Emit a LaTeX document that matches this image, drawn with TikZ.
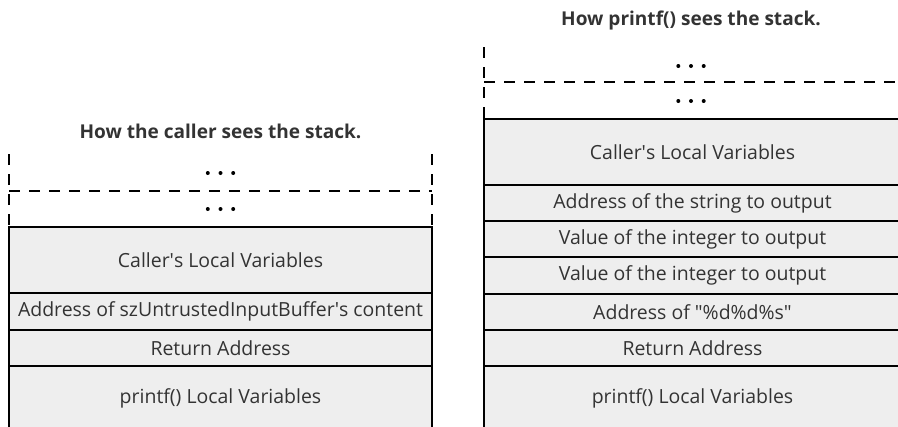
\documentclass[tikz,border=0pt]{standalone}
\usepackage{fontspec}
\setmainfont{Open Sans}
\usetikzlibrary{positioning}
\definecolor{cellgray}{HTML}{EEEEEE}
\definecolor{inkgray}{HTML}{333333}

\begin{document}
\begin{tikzpicture}[x=0.75pt,y=-0.75pt,line cap=butt,every node/.style={font=\fontsize{14.6}{16}\selectfont,text=inkgray}]
  \tikzset{
    cell/.style={draw,line width=1.5pt,fill=cellgray,outer sep=0pt,inner sep=0pt},
    heading/.style={font=\fontsize{14.3}{16}\selectfont\bfseries},
    rim/.style={line width=1.5pt,dash pattern=on 8pt off 7pt},
  }
  \useasboundingbox (0,0) rectangle (898,426);

  % caller's view
  \node[heading] (ltitle) at (220.5,131) {How the caller sees the stack.};
  \draw[rim] (9,154) -- (9,227) (432,154) -- (432,227);
  \draw[rim] (9,191) -- (432,191);
  \foreach \y in {173,209}
    \foreach \k in {-1,0,1}
      \fill (220.5+12.7*\k,\y) circle (1.5pt);
  \node[cell,anchor=north west,minimum width=317.25pt,minimum height=49.5pt] (lcaller) at (9,227) {Caller\textquotesingle s Local Variables};
  \foreach \n/\h/\t [remember=\n as \p (initially lcaller)] in {
      laddr/27.4/{Address of szUntrustedInputBuffer\textquotesingle s content},
      lret/27.4/{Return Address},
      lprintf/48/{printf() Local Variables}}{
    \node[cell,minimum width=317.25pt,minimum height=\h pt,below=0pt of \p] (\n) {\t};
  }

  % printf's view
  \node[heading] (rtitle) at (691,20) {How printf() sees the stack.};
  \draw[rim] (484,47) -- (484,119);
  \draw[rim] (484,82) -- (898,82);
  \foreach \y in {66,101}
    \foreach \k in {-1,0,1}
      \fill (691+12.7*\k,\y) circle (1.5pt);
  \node[cell,anchor=north west,minimum width=312.75pt,minimum height=49.5pt] (rcaller) at (484,119) {Caller\textquotesingle s Local Variables};
  \foreach \n/\h/\t [remember=\n as \p (initially rcaller)] in {
      rstring/27.15/{Address of the string to output},
      rint/27.15/{Value of the integer to output},
      rintb/27.15/{Value of the integer to output},
      rfmt/27.15/{Address of \textquotedbl\%d\%d\%s\textquotedbl},
      rret/27.15/{Return Address},
      rprintf/48/{printf() Local Variables}}{
    \node[cell,minimum width=312.75pt,minimum height=\h pt,below=0pt of \p] (\n) {\t};
  }
\end{tikzpicture}
\end{document}
